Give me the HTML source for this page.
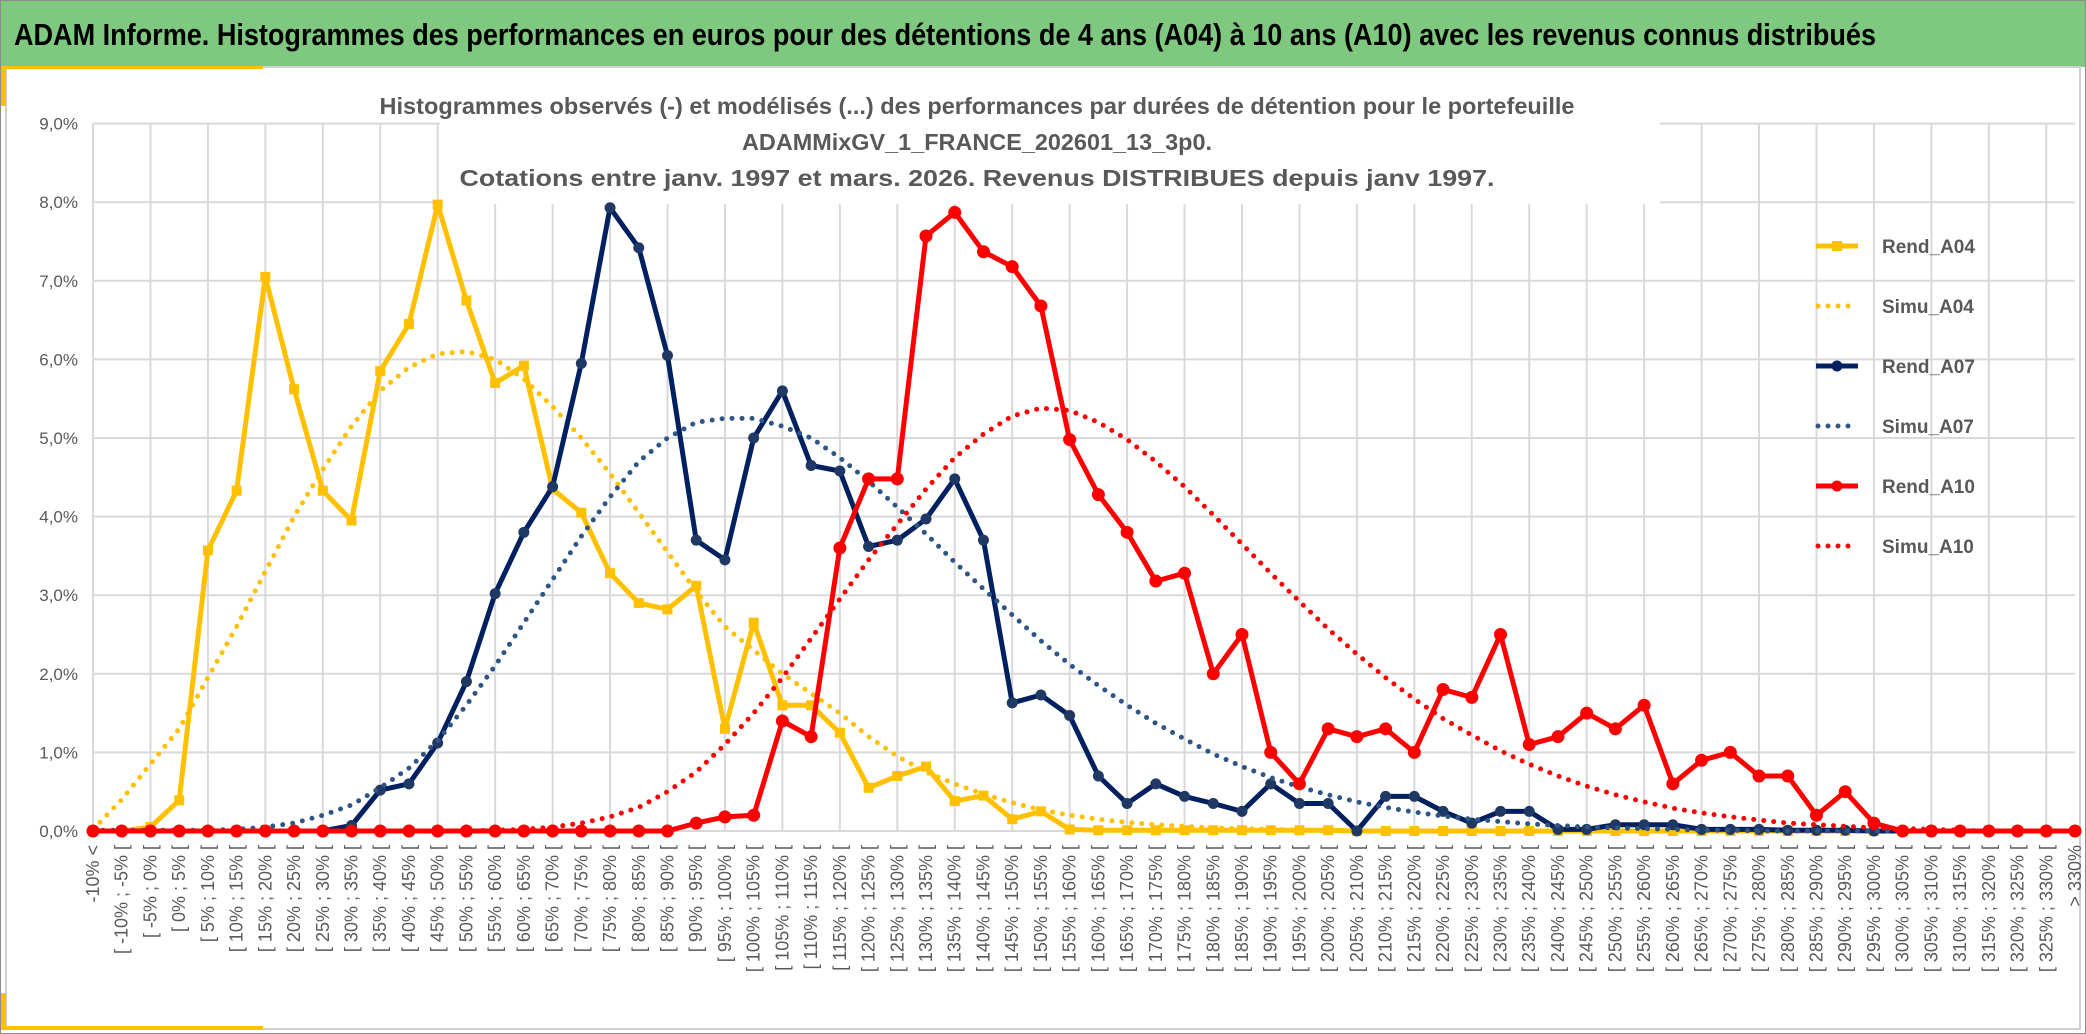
<!DOCTYPE html>
<html><head><meta charset="utf-8"><style>
html,body{margin:0;padding:0;background:#fff;}
svg{display:block;font-family:"Liberation Sans",sans-serif;}
</style></head><body>
<svg id="chart" width="2086" height="1034" viewBox="0 0 2086 1034" xmlns="http://www.w3.org/2000/svg">
<rect x="0.5" y="0.5" width="2085" height="1033" fill="#fff" stroke="#8c8c8c"/>
<rect x="1" y="1" width="2084" height="66" fill="#7ec87f"/>
<text x="14" y="45" font-size="31" font-weight="bold" fill="#000" textLength="1862" lengthAdjust="spacingAndGlyphs">ADAM Informe. Histogrammes des performances en euros pour des détentions de 4 ans (A04) à 10 ans (A10) avec les revenus connus distribués</text>
<rect x="6" y="67" width="2074" height="962" fill="none" stroke="#d0d0d0" stroke-width="2"/>
<rect x="1" y="66" width="262" height="3" fill="#ffc000"/>
<rect x="1" y="66" width="5" height="40" fill="#ffc000"/>
<rect x="1" y="1026" width="262" height="4" fill="#ffc000"/>
<rect x="1" y="993" width="5" height="37" fill="#ffc000"/>
<g id="grid"></g>
<rect x="440" y="86" width="1220" height="118" fill="#fff"/>
<g fill="#595959" font-size="23" font-weight="bold" text-anchor="middle">
<text x="977" y="114" textLength="1195" lengthAdjust="spacingAndGlyphs">Histogrammes observés (-) et modélisés (...) des performances par durées de détention pour le portefeuille</text>
<text x="977" y="150" textLength="470" lengthAdjust="spacingAndGlyphs">ADAMMixGV_1_FRANCE_202601_13_3p0.</text>
<text x="977" y="186" textLength="1035" lengthAdjust="spacingAndGlyphs">Cotations entre janv. 1997 et mars. 2026. Revenus DISTRIBUES depuis janv 1997.</text>
</g>
<g id="axes"></g>
<g id="series"></g>
<g id="legend"></g>
</svg>
<script>
const yTicks = [0,1,2,3,4,5,6,7,8,9];
const categories = ["-10%  <"];
for (let a = -10; a < 330; a += 5) categories.push("[ " + a + "% ; " + (a + 5) + "% [");
categories.push("> 330%");
const rendA04 = [0,0,0.05,0.39,3.57,4.33,7.05,5.62,4.33,3.95,5.85,6.45,7.97,6.75,5.7,5.92,4.35,4.05,3.28,2.9,2.82,3.12,1.3,2.65,1.6,1.6,1.25,0.55,0.7,0.82,0.38,0.45,0.15,0.25,0.02,0.01,0.01,0.01,0.01,0.01,0.01,0.01,0.01,0.01,0,0,0,0,0,0,0,0,0,0,0,0,0,0,0,0,0,0,0,0,0,0,0,0,0,0];
const simuA04 = [0.02,0.4,0.85,1.3,1.95,2.6,3.3,4.0,4.6,5.15,5.6,5.9,6.07,6.1,6.0,5.75,5.4,5.0,4.55,4.05,3.55,3.05,2.6,2.3,2.0,1.75,1.5,1.2,0.95,0.75,0.6,0.47,0.36,0.27,0.2,0.15,0.11,0.08,0.06,0.04,0.03,0.02,0.01,0,0,0,0,0,0,0,0,0,0,0,0,0,0,0,0,0,0,0,0,0,0,0,0,0,0,0];
const rendA07 = [0,0,0,0,0,0,0,0,0,0.07,0.52,0.6,1.12,1.9,3.02,3.8,4.38,5.95,7.93,7.42,6.05,3.7,3.45,5.0,5.6,4.65,4.58,3.62,3.7,3.97,4.48,3.7,1.63,1.73,1.47,0.7,0.35,0.6,0.44,0.35,0.25,0.6,0.35,0.35,0,0.44,0.44,0.25,0.1,0.25,0.25,0.02,0.02,0.08,0.08,0.08,0.02,0.02,0.02,0.01,0.01,0.01,0,0,0,0,0,0,0,0];
const simuA07 = [0.01,0.01,0.01,0.01,0.01,0.02,0.05,0.1,0.2,0.33,0.55,0.8,1.15,1.6,2.1,2.65,3.2,3.75,4.25,4.7,5.0,5.2,5.25,5.25,5.15,5.0,4.75,4.45,4.12,3.78,3.42,3.08,2.75,2.42,2.12,1.85,1.6,1.37,1.17,0.98,0.82,0.68,0.56,0.46,0.37,0.3,0.24,0.19,0.15,0.12,0.09,0.07,0.05,0.04,0.03,0.02,0.01,0.01,0,0,0,0,0,0,0,0,0,0,0,0];
const rendA10 = [0,0,0,0,0,0,0,0,0,0,0,0,0,0,0,0,0,0,0,0,0,0.1,0.18,0.2,1.4,1.2,3.6,4.48,4.48,7.57,7.87,7.37,7.18,6.68,4.98,4.28,3.8,3.18,3.28,2.0,2.5,1.0,0.6,1.3,1.2,1.3,1.0,1.8,1.7,2.5,1.1,1.2,1.5,1.3,1.6,0.6,0.9,1.0,0.7,0.7,0.2,0.5,0.1,0,0,0,0,0,0,0];
const simuA10 = [0,0,0,0,0,0,0,0,0,0,0,0,0,0,0.01,0.02,0.05,0.1,0.18,0.3,0.5,0.75,1.1,1.5,1.95,2.45,2.95,3.45,3.9,4.35,4.75,5.05,5.28,5.38,5.35,5.2,4.98,4.7,4.38,4.02,3.65,3.28,2.92,2.57,2.25,1.95,1.68,1.43,1.22,1.02,0.85,0.7,0.57,0.46,0.37,0.29,0.23,0.18,0.14,0.1,0.08,0.06,0.04,0.03,0.02,0.01,0,0,0,0];
const seriesNames = ["Rend_A04","Simu_A04","Rend_A07","Simu_A07","Rend_A10","Simu_A10"];

const NS = "http://www.w3.org/2000/svg";
const X0 = 93, X1 = 2075, Y0 = 831, PER = 78.6;
const xs = i => X0 + i * (X1 - X0) / (categories.length - 1);
const ys = v => Y0 - v * PER;
function mk(tag, attrs, parent) {
  const e = document.createElementNS(NS, tag);
  for (const k in attrs) e.setAttribute(k, attrs[k]);
  parent.appendChild(e);
  return e;
}
const grid = document.getElementById('grid');
yTicks.forEach(t => {
  const l = mk('line', {x1: X0, x2: X1, y1: ys(t), y2: ys(t), stroke: '#d9d9d9', 'stroke-width': 2}, grid);
  
  
});
categories.forEach((c, i) => {
  if (i % 2 === 0) {
    const l = mk('line', {x1: xs(i), x2: xs(i), y1: ys(9), y2: Y0, stroke: '#d9d9d9', 'stroke-width': 2}, grid);
    
    
  }
});
const axes = document.getElementById('axes');
yTicks.forEach(t => {
  const tx = mk('text', {x: 78, y: ys(t) + 6, 'text-anchor': 'end', 'font-size': 17, fill: '#595959'}, axes);
  tx.textContent = t.toFixed(1).replace('.', ',') + '%';
  
  
});
categories.forEach((c, i) => {
  const x = xs(i) + 6, y = 845;
  const tx = mk('text', {x: x, y: y, 'text-anchor': 'end', 'font-size': 18, fill: '#595959', transform: `rotate(-90 ${x} ${y})`}, axes);
  tx.textContent = c;
  
  
});
const sg = document.getElementById('series');
function pts(arr) { return arr.map((v, i) => xs(i).toFixed(1) + ',' + ys(v).toFixed(1)).join(' '); }
function drawSolid(arr, color, mcolor, shape, name) {
  const g = mk('g', {}, sg);
  
  
  mk('polyline', {points: pts(arr), fill: 'none', stroke: color, 'stroke-width': 5, 'stroke-linejoin': 'round'}, g);
  arr.forEach((v, i) => {
    let m;
    if (shape === 'square') m = mk('rect', {x: xs(i) - 5, y: ys(v) - 5, width: 10, height: 10, fill: mcolor}, g);
    else m = mk('circle', {cx: xs(i), cy: ys(v), r: shape === 'big' ? 6.5 : 5.5, fill: mcolor}, g);
    
    
  });
}
function drawDotted(arr, color, name) {
  const p = mk('polyline', {points: pts(arr), fill: 'none', stroke: color, 'stroke-width': 5, 'stroke-linecap': 'round', 'stroke-dasharray': '0 10'}, sg);
  
  
}
drawSolid(rendA04, '#ffc000', '#ffc000', 'square', 'rend-a04-series');
drawDotted(simuA04, '#ffc000', 'simu-a04-series');
drawSolid(rendA07, '#002060', '#203864', 'circle', 'rend-a07-series');
drawDotted(simuA07, '#2f5587', 'simu-a07-series');
drawSolid(rendA10, '#ff0000', '#ff0000', 'big', 'rend-a10-series');
drawDotted(simuA10, '#ff0000', 'simu-a10-series');

const lg = document.getElementById('legend');
const lcol = ['#ffc000','#ffc000','#002060','#2f5587','#ff0000','#ff0000'];
seriesNames.forEach((n, k) => {
  const y = 246 + k * 60;
  const g = mk('g', {}, lg);
  
  
  if (k % 2 === 0) {
    mk('line', {x1: 1816, x2: 1858, y1: y, y2: y, stroke: lcol[k], 'stroke-width': 5}, g);
    if (k === 0) mk('rect', {x: 1832, y: y - 5, width: 10, height: 10, fill: lcol[k]}, g);
    else mk('circle', {cx: 1837, cy: y, r: 5.5, fill: lcol[k]}, g);
  } else {
    mk('line', {x1: 1818, x2: 1858, y1: y, y2: y, stroke: lcol[k], 'stroke-width': 5, 'stroke-linecap': 'round', 'stroke-dasharray': '0 10'}, g);
  }
  const t = mk('text', {x: 1882, y: y + 7, 'font-size': 19, 'font-weight': 'bold', fill: '#595959'}, g);
  t.textContent = n;
});
</script>
</body></html>
